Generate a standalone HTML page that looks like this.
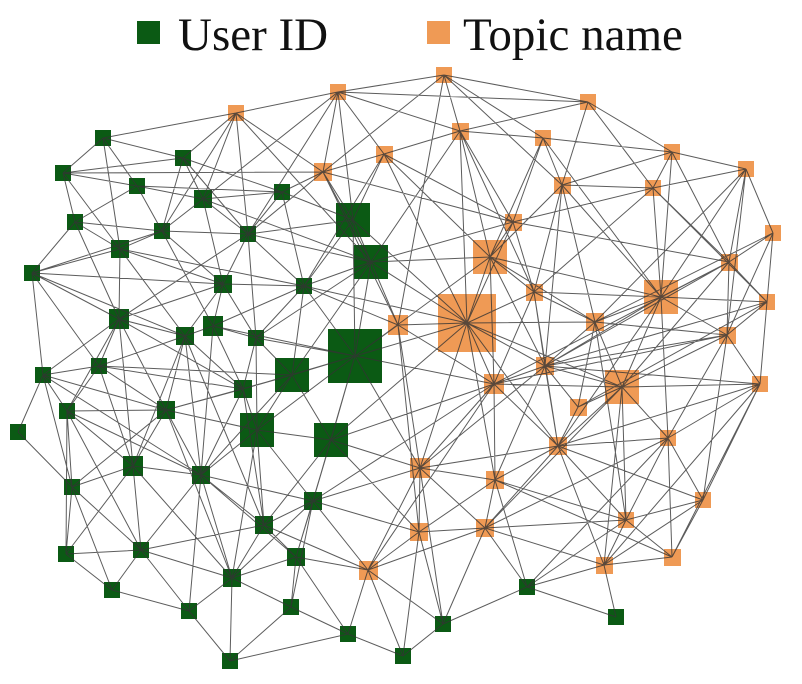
<!DOCTYPE html>
<html><head><meta charset="utf-8"><style>
html,body{margin:0;padding:0;background:#fff;}
svg{display:block;}
</style></head><body>
<svg width="802" height="684" viewBox="0 0 802 684" xmlns="http://www.w3.org/2000/svg">
<rect width="802" height="684" fill="#fff"/>
<rect x="137" y="21" width="23" height="23" fill="#0b5a14"/>
<text x="178" y="50" font-family="Liberation Serif, serif" font-size="47" fill="#111">User ID</text>
<rect x="427" y="21" width="23" height="23" fill="#ef9a55"/>
<text x="463" y="50" font-family="Liberation Serif, serif" font-size="47" fill="#111">Topic name</text>
<path fill="#0b5a14" d="M95 130h16v16h-16zM175 150h16v16h-16zM55 165h16v16h-16zM129 178h16v16h-16zM274 184h16v16h-16zM194 190h18v18h-18zM336 203h34v34h-34zM67 214h16v16h-16zM154 223h16v16h-16zM240 226h16v16h-16zM111 240h18v18h-18zM354 245h34v34h-34zM24 265h16v16h-16zM214 275h18v18h-18zM296 278h16v16h-16zM109 309h20v20h-20zM203 316h20v20h-20zM176 327h18v18h-18zM248 330h16v16h-16zM328 329h54v54h-54zM91 358h16v16h-16zM35 367h16v16h-16zM275 358h34v34h-34zM234 380h18v18h-18zM59 403h16v16h-16zM157 401h18v18h-18zM10 424h16v16h-16zM240 413h34v34h-34zM314 423h34v34h-34zM123 456h20v20h-20zM192 466h18v18h-18zM64 479h16v16h-16zM304 492h18v18h-18zM255 516h18v18h-18zM133 542h16v16h-16zM58 546h16v16h-16zM287 548h18v18h-18zM223 569h18v18h-18zM104 582h16v16h-16zM519 579h16v16h-16zM181 603h16v16h-16zM283 599h16v16h-16zM340 626h16v16h-16zM435 616h16v16h-16zM608 609h16v16h-16zM222 653h16v16h-16zM395 648h16v16h-16z"/>
<path fill="#ef9a55" d="M436 67h16v16h-16zM330 84h16v16h-16zM228 105h16v16h-16zM580 94h16v16h-16zM452 123h17v17h-17zM535 130h16v16h-16zM376 146h17v17h-17zM664 144h16v16h-16zM314 163h18v18h-18zM738 161h16v16h-16zM554 177h17v17h-17zM645 180h16v16h-16zM505 214h17v17h-17zM765 225h16v16h-16zM473 240h34v34h-34zM721 254h17v17h-17zM644 280h34v34h-34zM526 284h17v17h-17zM759 294h16v16h-16zM438 294h58v58h-58zM388 315h20v20h-20zM586 313h18v18h-18zM719 327h17v17h-17zM536 357h18v18h-18zM605 370h34v34h-34zM484 374h20v20h-20zM570 399h17v17h-17zM752 376h16v16h-16zM549 437h18v18h-18zM660 430h16v16h-16zM410 458h20v20h-20zM486 471h18v18h-18zM695 492h16v16h-16zM618 512h16v16h-16zM410 523h18v18h-18zM476 519h18v18h-18zM664 549h17v17h-17zM596 557h17v17h-17zM359 561h19v19h-19z"/>
<path fill="none" stroke="#333" stroke-width="1" stroke-opacity="0.8" d="M444 75L338 92M444 75L588 102M444 75L460 131M444 75L543 138M444 75L323 172M444 75L562 185M444 75L398 325M338 92L236 113M338 92L588 102M338 92L460 131M338 92L384 154M338 92L323 172M338 92L353 220M338 92L248 234M338 92L203 199M236 113L103 138M236 113L203 199M236 113L248 234M236 113L323 172M236 113L371 262M236 113L183 158M236 113L162 231M588 102L672 152M588 102L562 185M588 102L653 188M588 102L460 131M460 131L543 138M460 131L384 154M460 131L490 257M460 131L467 323M460 131L371 262M460 131L513 222M460 131L534 292M543 138L672 152M543 138L562 185M543 138L513 222M543 138L661 297M543 138L490 257M384 154L323 172M384 154L490 257M384 154L353 220M384 154L467 323M384 154L304 286M384 154L513 222M672 152L746 169M672 152L653 188M672 152L661 297M672 152L729 262M672 152L562 185M323 172L282 192M323 172L353 220M323 172L248 234M323 172L63 173M323 172L398 325M323 172L371 262M323 172L513 222M746 169L773 233M746 169L729 262M746 169L653 188M746 169L727 335M746 169L595 322M746 169L661 297M562 185L653 188M562 185L490 257M562 185L534 292M562 185L661 297M562 185L595 322M562 185L545 366M653 188L661 297M653 188L729 262M653 188L767 302M653 188L513 222M653 188L534 292M513 222L490 257M513 222L534 292M513 222L371 262M513 222L467 323M513 222L729 262M773 233L729 262M773 233L767 302M773 233L727 335M773 233L595 322M490 257L371 262M490 257L467 323M490 257L534 292M490 257L494 384M490 257L661 297M490 257L355 356M490 257L545 366M490 257L595 322M729 262L661 297M729 262L727 335M729 262L767 302M729 262L622 387M729 262L545 366M729 262L494 384M661 297L767 302M661 297L595 322M661 297L727 335M661 297L545 366M661 297L622 387M661 297L534 292M661 297L558 446M661 297L668 438M534 292L595 322M534 292L467 323M534 292L545 366M534 292L494 384M534 292L558 446M767 302L727 335M767 302L760 384M767 302L545 366M767 302L578 407M467 323L398 325M467 323L494 384M467 323L355 356M467 323L545 366M467 323L595 322M467 323L622 387M467 323L371 262M467 323L420 468M467 323L495 480M467 323L353 220M467 323L304 286M467 323L558 446M467 323L331 440M398 325L371 262M398 325L355 356M398 325L420 468M398 325L494 384M398 325L419 532M398 325L304 286M595 322L545 366M595 322L622 387M595 322L578 407M595 322L727 335M595 322L626 520M727 335L545 366M727 335L622 387M727 335L760 384M727 335L668 438M727 335L494 384M727 335L703 500M545 366L494 384M545 366L622 387M545 366L578 407M545 366L558 446M545 366L420 468M545 366L495 480M545 366L760 384M622 387L760 384M622 387L578 407M622 387L558 446M622 387L485 528M622 387L668 438M622 387L626 520M622 387L604 565M494 384L558 446M494 384L495 480M494 384L331 440M494 384L420 468M494 384L622 387M494 384L368 570M494 384L313 501M578 407L558 446M760 384L668 438M760 384L703 500M760 384L604 565M760 384L558 446M760 384L672 557M558 446L668 438M558 446L420 468M558 446L485 528M558 446L626 520M558 446L703 500M558 446L604 565M558 446L495 480M668 438L703 500M668 438L626 520M668 438L672 557M668 438L485 528M668 438L527 587M420 468L495 480M420 468L485 528M420 468L331 440M420 468L419 532M420 468L313 501M420 468L443 624M420 468L368 570M495 480L419 532M495 480L485 528M495 480L626 520M495 480L527 587M495 480L672 557M703 500L626 520M703 500L672 557M703 500L604 565M626 520L672 557M626 520L604 565M626 520L485 528M626 520L527 587M419 532L485 528M419 532L368 570M419 532L443 624M419 532L313 501M485 528L527 587M485 528L368 570M485 528L443 624M485 528L604 565M672 557L604 565M604 565L527 587M604 565L616 617M368 570L313 501M368 570L296 557M368 570L348 634M368 570L403 656M368 570L443 624M368 570L264 525M527 587L443 624M527 587L616 617M443 624L403 656M348 634L403 656M403 656L419 532M103 138L183 158M103 138L63 173M103 138L120 249M103 138L137 186M183 158L63 173M183 158L282 192M183 158L162 231M183 158L203 199M183 158L248 234M63 173L75 222M63 173L137 186M63 173L120 249M137 186L203 199M137 186L75 222M137 186L162 231M137 186L282 192M282 192L203 199M282 192L248 234M282 192L353 220M282 192L304 286M203 199L162 231M203 199L223 284M203 199L248 234M203 199L371 262M353 220L371 262M353 220L248 234M353 220L304 286M353 220L355 356M353 220L398 325M75 222L32 273M75 222L120 249M75 222L119 319M75 222L162 231M162 231L120 249M162 231L248 234M162 231L223 284M162 231L213 326M162 231L32 273M248 234L223 284M248 234L304 286M248 234L371 262M248 234L256 338M248 234L119 319M120 249L32 273M120 249L119 319M120 249L223 284M120 249L185 336M120 249L304 286M371 262L304 286M371 262L355 356M371 262L292 375M371 262L256 338M32 273L119 319M32 273L223 284M32 273L43 375M32 273L99 366M32 273L185 336M223 284L304 286M223 284L213 326M223 284L185 336M223 284L119 319M223 284L256 338M304 286L256 338M304 286L355 356M304 286L292 375M304 286L213 326M119 319L99 366M119 319L43 375M119 319L185 336M119 319L243 389M119 319L67 411M119 319L166 410M119 319L133 466M213 326L185 336M213 326L256 338M213 326L243 389M213 326L355 356M213 326L201 475M185 336L166 410M185 336L99 366M185 336L243 389M185 336L133 466M185 336L201 475M185 336L264 525M256 338L292 375M256 338L355 356M256 338L243 389M256 338L257 430M355 356L292 375M355 356L331 440M355 356L257 430M355 356L494 384M355 356L420 468M355 356L313 501M355 356L243 389M99 366L43 375M99 366L67 411M99 366L166 410M99 366L243 389M99 366L133 466M99 366L292 375M43 375L67 411M43 375L18 432M43 375L72 487M43 375L166 410M43 375L201 475M292 375L257 430M292 375L243 389M292 375L331 440M292 375L201 475M292 375L166 410M243 389L166 410M243 389L257 430M243 389L201 475M243 389L264 525M67 411L133 466M67 411L72 487M67 411L66 554M67 411L166 410M67 411L201 475M67 411L141 550M166 410L133 466M166 410L201 475M166 410L257 430M166 410L72 487M166 410L232 578M18 432L72 487M257 430L331 440M257 430L201 475M257 430L264 525M257 430L313 501M257 430L232 578M331 440L313 501M331 440L264 525M331 440L419 532M331 440L296 557M133 466L201 475M133 466L72 487M133 466L141 550M133 466L232 578M133 466L66 554M201 475L264 525M201 475L141 550M201 475L232 578M201 475L189 611M201 475L296 557M201 475L313 501M72 487L141 550M72 487L66 554M72 487L112 590M313 501L264 525M313 501L296 557M313 501L232 578M313 501L291 607M264 525L296 557M264 525L141 550M264 525L232 578M141 550L66 554M141 550L232 578M141 550L112 590M141 550L189 611M66 554L112 590M296 557L232 578M296 557L291 607M296 557L348 634M232 578L189 611M232 578L291 607M232 578L230 661M112 590L189 611M189 611L230 661M291 607L348 634M291 607L230 661M230 661L348 634"/>
</svg>
</body></html>
